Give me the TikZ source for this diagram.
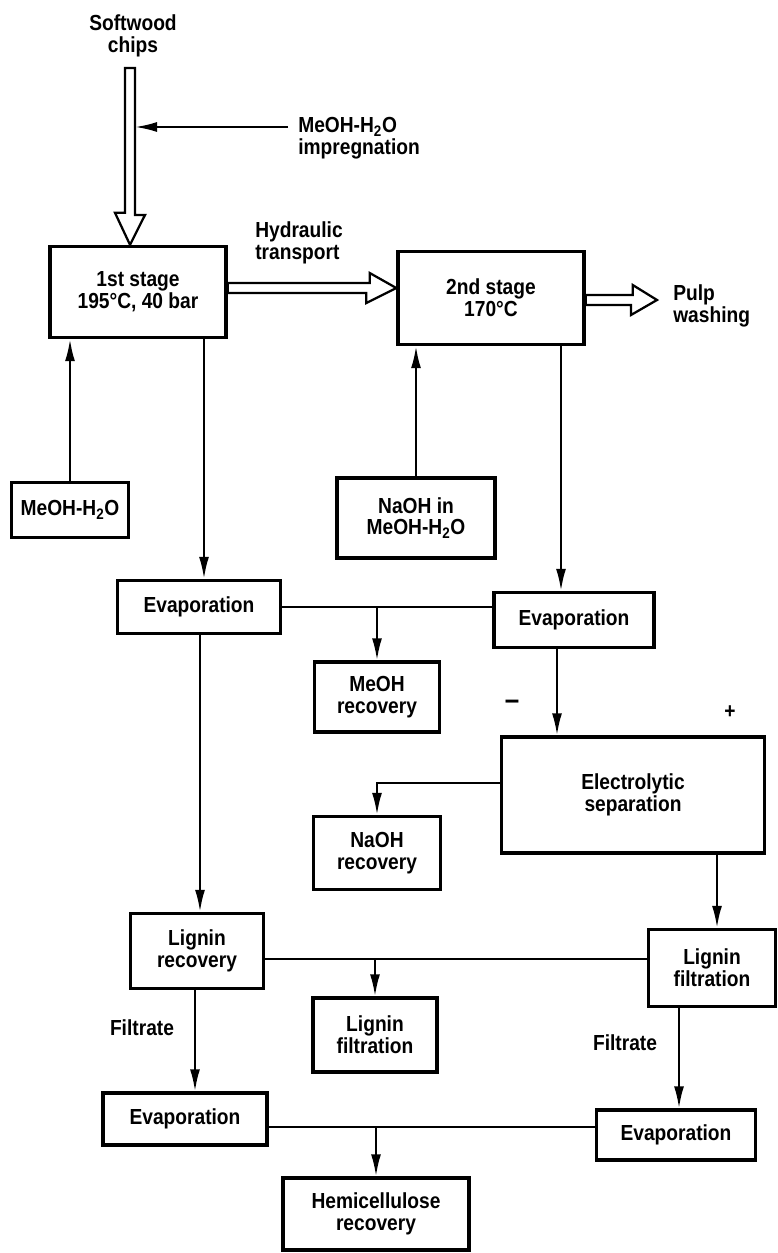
\documentclass[tikz,border=0pt]{standalone}
\usepackage{fontspec}
\setmainfont{Liberation Sans}[FakeStretch=0.88]
\usetikzlibrary{
  arrows.meta,
  calc}

\begin{document}
\begin{tikzpicture}[
  x=0.025cm, y=-0.025cm,
  font=\bfseries\fontsize{15.5}{15.5}\selectfont,
  box/.style 2 args={draw, line width=2.4pt, align=center, inner sep=0pt,
    minimum width=#1, minimum height=#2},
  txt/.style={align=left, inner sep=0pt},
  arr/.style={line width=1.6pt, -{Latex[length=5.5mm,width=2.5mm]}},
  link/.style={line width=1.6pt},
  hollow/.style={draw, line width=1.6pt, fill=white, line join=miter}
]
\useasboundingbox (0,0) rectangle (777,1253);

\node[txt, align=center] (chips) at (133,36) {Softwood\\chips};
\node[txt, anchor=west] (impreg) at (298,138) {MeOH-H\textsubscript{2}O\\impregnation};
\node[txt, anchor=west] (hydr) at (255,243) {Hydraulic\\transport};
\node[txt, anchor=west] (pulp) at (673,306) {Pulp\\washing};

\node[box={4.4cm}{2.275cm}] (stage1) at (138,292) {1st stage\\195°C, 40 bar};
\node[box={4.65cm}{2.325cm}] (stage2) at (491,298) {2nd stage\\170°C};
\node[box={2.925cm}{1.375cm}] (feedL) at (70,510) {MeOH-H\textsubscript{2}O};
\node[box={3.95cm}{2cm}] (feedR) at (416,518) {NaOH in\\MeOH-H\textsubscript{2}O};

\node[box={4.075cm}{1.325cm}] (evapA) at (199,607) {Evaporation};
\node[box={4cm}{1.375cm}] (evapB) at (574,620) {Evaporation};
\node[box={3.125cm}{1.75cm}] (meohrec) at (377,697) {MeOH\\recovery};
\node[box={6.575cm}{2.9cm}] (electro) at (633,795) {Electrolytic\\separation};
\node[box={3.175cm}{1.825cm}] (naohrec) at (377,853) {NaOH\\recovery};
\node[txt, font=\bfseries\fontsize{21}{21}\selectfont] (minus) at (512,705) {--};
\node[txt] (plus) at (730,712) {+};

\node[box={3.325cm}{1.875cm}] (ligrec) at (197,951) {Lignin\\recovery};
\node[box={3.1cm}{1.85cm}] (ligfilM) at (375,1035) {Lignin\\filtration};
\node[box={3.175cm}{1.925cm}] (ligfilR) at (712,968) {Lignin\\filtration};
\node[txt] (filtL) at (142,1028) {Filtrate};
\node[txt] (filtR) at (625,1043) {Filtrate};

\node[box={4.1cm}{1.3cm}] (evapC) at (185,1119) {Evaporation};
\node[box={3.975cm}{1.25cm}] (evapD) at (676,1135) {Evaporation};
\node[box={4.65cm}{1.8cm}] (hemi) at (376,1214) {Hemicellulose\\recovery};

\coordinate (chipsin) at (130,68);
\coordinate (shaft) at (135,127);
\coordinate (pulpin) at (657,300);

\draw[hollow] ($(chipsin)+(-5,0)$) -- ++(10,0) -- ++(0,147) -- ++(10,0)
  -- (chipsin |- stage1.north) -- ++(-15,-32) -- ++(10,0) -- cycle;
\draw[hollow] (stage1.east |- 0,283) -| ++(142,-10) -- (stage2.west |- 0,288)
  -- ++(-30,15) |- (stage1.east |- 0,293) -- cycle;
\draw[hollow] (stage2.east |- 0,295) -| ++(47,-10) -- (pulpin)
  -- ++(-26,15) |- (stage2.east |- 0,305) -- cycle;

\draw[arr] ($(impreg.west |- 0,127)+(-10,0)$) -- (shaft);
\draw[arr] (feedL) -- (feedL |- stage1.south);
\draw[arr] (stage1.south -| 204,0) -- (evapA.north -| 204,0);
\draw[arr] (feedR) -- (feedR |- stage2.south);
\draw[arr] (stage2.south -| 561,0) -- (evapB.north -| 561,0);

\draw[link] (evapA) -- (evapA -| evapB.west);
\draw[arr] (meohrec |- evapA) -- (meohrec);
\draw[arr] (evapB.south -| 557,0) -- (electro.north -| 557,0);
\draw[arr] (electro.west |- 0,783) -| (naohrec);
\draw[arr] (evapA.south -| 200,0) -- (ligrec.north -| 200,0);
\draw[arr] (electro.south -| 717,0) -- (ligfilR.north -| 717,0);

\draw[link] (ligrec.east |- 0,959) -- (ligfilR.west |- 0,959);
\draw[arr] (ligfilM |- 0,959) -- (ligfilM);
\draw[arr] (ligrec.south -| 195,0) -- (evapC.north -| 195,0);
\draw[arr] (ligfilR.south -| 679,0) -- (evapD.north -| 679,0);

\draw[link] (evapC.east |- 0,1127) -- (evapD.west |- 0,1127);
\draw[arr] (hemi |- 0,1127) -- (hemi);
\end{tikzpicture}
\end{document}
